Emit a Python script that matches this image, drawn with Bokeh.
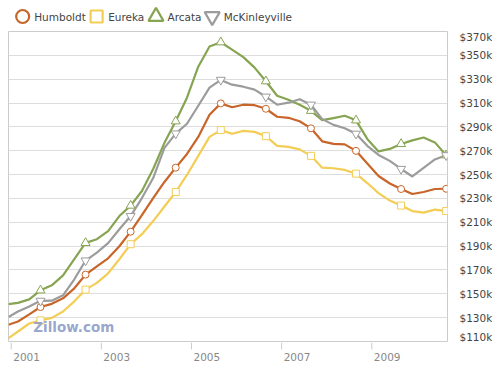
from bokeh.plotting import figure
from bokeh.layouts import column
from bokeh.models import FixedTicker, Range1d, Label
from bokeh.core.properties import value
from bokeh.embed import file_html
from bokeh.resources import INLINE

# ---------------- data (values in $ thousands) ----------------
years = [2000.94, 2001.15, 2001.40, 2001.65, 2001.90, 2002.15, 2002.40, 2002.65,
         2002.90, 2003.15, 2003.40, 2003.65, 2003.90, 2004.15, 2004.40, 2004.65,
         2004.90, 2005.15, 2005.40, 2005.65, 2005.90, 2006.15, 2006.40, 2006.65,
         2006.90, 2007.15, 2007.40, 2007.65, 2007.90, 2008.15, 2008.40, 2008.65,
         2008.90, 2009.15, 2009.40, 2009.65, 2009.90, 2010.15, 2010.40, 2010.65]

humboldt = [124.1, 126.8, 132.7, 138.9, 141.6, 146.2, 154.6, 166.1, 173.1, 179.8,
            189.9, 202.1, 216.0, 230.3, 243.8, 255.8, 267.3, 281.6, 300.2, 309.7,
            306.5, 308.6, 308.2, 305.2, 298.5, 297.6, 294.7, 288.8, 277.9, 275.8,
            275.3, 269.9, 259.3, 248.8, 242.5, 237.9, 233.7, 235.4, 237.9, 238.1]

eureka = [112.8, 118.4, 125.1, 127.7, 129.8, 135.2, 143.7, 153.5, 159.2, 167.2,
          179.0, 191.6, 200.0, 211.0, 223.2, 235.4, 249.7, 265.7, 281.6, 287.3,
          284.2, 286.7, 285.8, 282.2, 274.1, 273.2, 271.1, 265.7, 255.8, 255.3,
          253.9, 250.8, 242.9, 234.5, 228.2, 224.0, 219.4, 218.1, 220.6, 219.4]

arcata = [141.4, 142.4, 145.3, 152.9, 157.1, 165.5, 179.0, 192.7, 195.8, 202.6,
          215.2, 224.0, 236.2, 254.7, 276.6, 294.7, 314.5, 340.5, 357.4, 361.0,
          354.8, 348.5, 339.7, 328.3, 316.1, 312.8, 308.6, 303.5, 295.7, 297.4,
          299.3, 295.5, 279.9, 269.4, 271.5, 275.7, 278.7, 281.1, 277.0, 266.2]

mckinleyville = [130.6, 135.2, 139.4, 144.1, 144.2, 148.7, 162.2, 177.9, 184.5, 192.5,
                 204.2, 215.2, 230.3, 247.1, 272.4, 284.4, 292.6, 307.7, 322.9, 329.4,
                 325.4, 323.7, 321.2, 315.3, 308.6, 310.3, 313.2, 308.6, 296.5, 291.7,
                 288.8, 284.2, 274.1, 266.5, 261.5, 254.7, 248.4, 255.6, 262.7, 266.2]

series_names = ["Humboldt", "Eureka", "Arcata", "McKinleyville"]
series_values = [humboldt, eureka, arcata, mckinleyville]

x_ticks = [2001, 2003, 2005, 2007, 2009]
x_tick_labels = ["2001", "2003", "2005", "2007", "2009"]
y_ticks = [110, 130, 150, 170, 190, 210, 230, 250, 270, 290, 310, 330, 350, 370]
y_tick_labels = ["$110k", "$130k", "$150k", "$170k", "$190k", "$210k", "$230k",
                 "$250k", "$270k", "$290k", "$310k", "$330k", "$350k", "$370k"]

# ---------------- styles ----------------
colors = ["#c8652a", "#f3cd55", "#86a451", "#9c9c9c"]
marker_types = ["circle", "square", "triangle", "inverted_triangle"]
marker_sizes = [7, 7, 9, 9]
legend_sizes = [13, 12, 15, 15]
FONT = "DejaVu Sans"
FRAME_W = 439
LEFT = 8
W = 490

# ---------------- legend strip ----------------
LEG_H = 30
leg = figure(width=W, height=LEG_H, x_range=Range1d(0, W), y_range=Range1d(0, LEG_H),
             output_backend="svg", toolbar_location=None,
             min_border_left=0, min_border_right=0, min_border_top=0, min_border_bottom=0)
leg.axis.visible = False
leg.grid.visible = False
leg.outline_line_color = None
leg_x = [16, 99.5, 166.5, 230]
leg_y = LEG_H - 16
for name, c, m, s, lx in zip(series_names, colors, marker_types, legend_sizes, leg_x):
    leg.scatter([lx], [leg_y], marker=m, size=s, line_color=c, line_width=2.2,
                fill_color="white")
    leg.add_layout(Label(x=lx + 13, y=leg_y, text=name, text_font=FONT,
                         text_font_size="10.5px", text_color="#444444",
                         text_baseline="middle", text_align="left"))

# ---------------- main chart ----------------
xr = Range1d(2000.94, 2010.68)
p = figure(frame_width=FRAME_W, frame_height=310, x_range=xr,
           y_range=Range1d(110, 370), output_backend="svg", toolbar_location=None,
           y_axis_location="right",
           min_border_left=LEFT, min_border_right=0, min_border_top=1, min_border_bottom=1)
p.outline_line_color = "#cccccc"
p.xaxis.visible = False
p.xgrid.visible = False
p.ygrid.ticker = FixedTicker(ticks=y_ticks[1:-1])
p.ygrid.grid_line_color = "#dddddd"

p.yaxis.ticker = FixedTicker(ticks=y_ticks)
p.yaxis.major_label_overrides = {t: l for t, l in zip(y_ticks, y_tick_labels)}
p.yaxis.major_tick_line_color = None
p.yaxis.minor_tick_line_color = None
p.yaxis.axis_line_color = None
p.yaxis.major_label_standoff = 6
p.yaxis.major_label_text_font = FONT
p.yaxis.major_label_text_font_size = "10.5px"
p.yaxis.major_label_text_color = "#444444"

p.add_layout(Label(x=2001.49, y=121.8, text="Zillow.com", text_font=FONT,
                   text_font_size="13.5px", text_font_style="bold",
                   text_color="#8c9bc6", text_baseline="middle", text_alpha=0.9))

for vals, c in zip(series_values, colors):
    p.line(years, vals, line_color=c, line_width=2.2, line_join="round")
for vals, c, m, s in zip(series_values, colors, marker_types, marker_sizes):
    p.scatter(years[3::4], vals[3::4], marker=m, size=s, line_color=c,
              line_width=1, fill_color="white")

# ---------------- x axis strip (ticks + year labels right of each tick) ----------------
AX_H = 22
ax = figure(frame_width=FRAME_W, frame_height=AX_H, x_range=xr,
            y_range=Range1d(0, AX_H), output_backend="svg", toolbar_location=None,
            min_border_left=LEFT, min_border_right=W - LEFT - FRAME_W,
            min_border_top=0, min_border_bottom=0)
ax.axis.visible = False
ax.grid.visible = False
ax.outline_line_color = None
ax.segment(x0=x_ticks, y0=[AX_H] * len(x_ticks), x1=x_ticks,
           y1=[AX_H - 7] * len(x_ticks), line_color="#cccccc", line_width=1)
ax.text(x=x_ticks, y=[AX_H - 14] * len(x_ticks), text=x_tick_labels, x_offset=2,
        text_align="left", text_baseline="middle", text_font=value(FONT),
        text_font_size="10.5px", text_color="#888888")

layout = column(leg, p, ax, spacing=0)
open("out.html", "w").write(file_html(layout, INLINE))
